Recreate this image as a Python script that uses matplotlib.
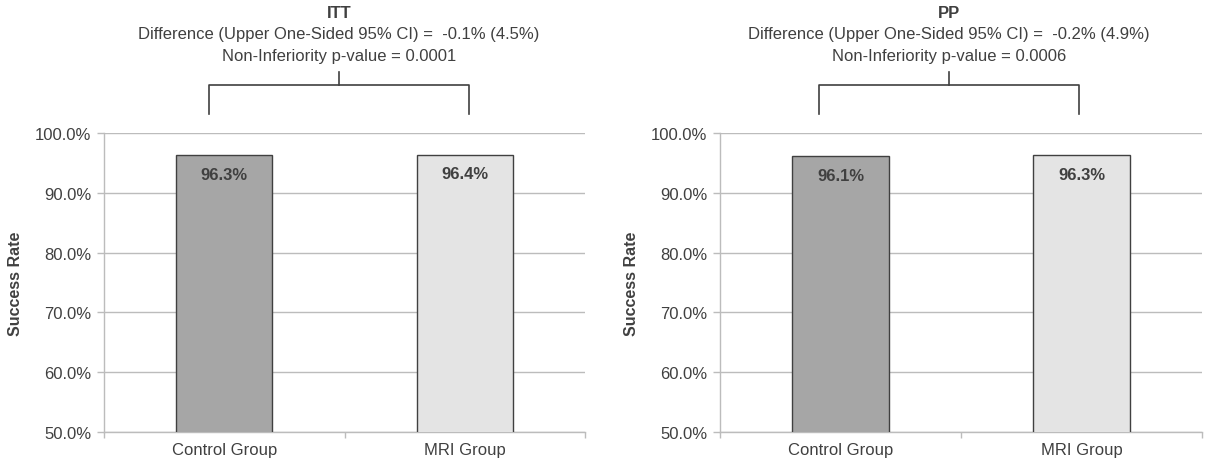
import matplotlib
matplotlib.use("Agg")
import matplotlib.pyplot as plt

plt.rcParams['font.family'] = ['Liberation Sans', 'DejaVu Sans']

groups = ['Control Group', 'MRI Group']
panel_titles = ['ITT', 'PP']
rates = [[96.3, 96.4], [96.1, 96.3]]
diff_text = ['Difference (Upper One-Sided 95% CI) =  -0.1% (4.5%)',
             'Difference (Upper One-Sided 95% CI) =  -0.2% (4.9%)']
pval_text = ['Non-Inferiority p-value = 0.0001',
             'Non-Inferiority p-value = 0.0006']
yticks = [50, 60, 70, 80, 90, 100]

bar_colors = ['#a6a6a6', '#e4e4e4']
txt = '#404040'
grid = '#bcbcbc'
fs = 12

fig = plt.figure(figsize=(12.06, 4.64), dpi=100)
W, H = 1206, 464
# axes positions in pixels (left, right)
spans = [(104, 585), (720, 1202)]
# bracket: left x, right x, stem x (pixels)
brackets = [(209, 469, 339), (819, 1079, 949)]
top_px, bot_px = 134, 433

for k in range(2):
    l, r = spans[k]
    ax = fig.add_axes([l / W, 1 - bot_px / H, (r - l) / W, (bot_px - top_px) / H])
    x = range(len(groups))
    ax.bar(x, rates[k], width=0.4, bottom=0, color=bar_colors,
           edgecolor='#404040', linewidth=1.0, zorder=3)
    ax.set_xlim(-0.5, 1.5)
    ax.set_ylim(50, 100)
    ax.set_yticks(yticks)
    ax.set_yticklabels(['%.1f%%' % v for v in yticks])
    ax.set_xticks(list(x))
    ax.set_xticklabels(groups)
    ax.set_xticks([-0.5, 0.5, 1.5], minor=True)
    ax.tick_params(axis='x', which='major', length=0, pad=7, labelsize=fs, labelcolor=txt)
    ax.tick_params(axis='x', which='minor', length=4, color=grid, width=1)
    ax.tick_params(axis='y', length=5, color=grid, width=1, pad=4, labelsize=fs, labelcolor=txt)
    ax.grid(axis='y', color=grid, linewidth=1, zorder=0)
    for s in ['top', 'right']:
        ax.spines[s].set_visible(False)
    for s in ['left', 'bottom']:
        ax.spines[s].set_color(grid)
        ax.spines[s].set_linewidth(1)
    ax.set_ylabel('Success Rate', fontsize=11.5, fontweight='bold', color=txt, labelpad=9)

    for i, v in enumerate(rates[k]):
        ax.text(i, v - 3.2, '%.1f%%' % v, ha='center', va='center',
                fontsize=fs, fontweight='bold', color=txt, zorder=4)

    # bracket above the bars
    def px2x(p):
        return -0.5 + (p - l) / ((r - l) / 2.0)

    def px2y(p):
        return 100 + (top_px - p) / ((bot_px - top_px) / 50.0)

    bl, br, bs = brackets[k]
    xs = [px2x(bl), px2x(bl), px2x(br), px2x(br)]
    ys = [px2y(115), px2y(86), px2y(86), px2y(115)]
    ax.plot(xs, ys, color='#404040', linewidth=1.2, clip_on=False)
    ax.plot([px2x(bs), px2x(bs)], [px2y(86), px2y(73)], color='#404040',
            linewidth=1.2, clip_on=False)

    fig.text(bs / W, 1 - 14 / H, panel_titles[k], ha='center', va='center',
             fontsize=fs, fontweight='bold', color=txt)
    fig.text(bs / W, 1 - 35 / H, diff_text[k], ha='center', va='center',
             fontsize=fs, color=txt)
    fig.text(bs / W, 1 - 56 / H, pval_text[k], ha='center', va='center',
             fontsize=fs, color=txt)

fig.savefig('out.png', dpi=100)
